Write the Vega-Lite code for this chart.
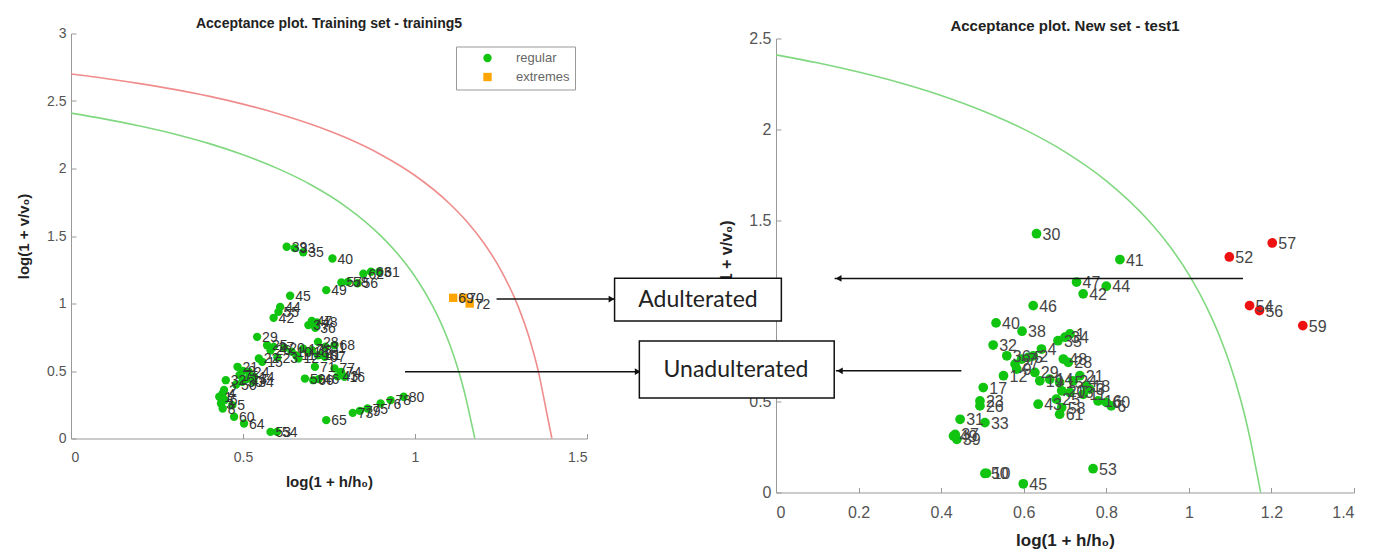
{
  "$schema": "https://vega.github.io/schema/vega-lite/v6.json",
  "background": "white",
  "padding": {"left": 16, "top": 16.5, "right": 5, "bottom": 5},
  "bounds": "flush",
  "spacing": 189,
  "config": {
    "view": {"stroke": null},
    "font": "Liberation Sans",
    "axis": {"grid": false, "domainColor": "#999", "tickColor": "#999", "labelColor": "#555", "titleColor": "#222", "tickSize": -5, "labelFont": "Liberation Sans", "titleFont": "Liberation Sans", "titleFontWeight": "bold"}
  },
  "resolve": {"scale": {"color": "independent", "shape": "independent"}},
  "datasets": {
    "green_curve": [
      {"x": 0, "y": 2.41}, {"x": 0.1, "y": 2.366}, {"x": 0.2, "y": 2.315}, {"x": 0.3, "y": 2.256}, {"x": 0.4, "y": 2.186},
      {"x": 0.5, "y": 2.102}, {"x": 0.6, "y": 2.001}, {"x": 0.7, "y": 1.876}, {"x": 0.8, "y": 1.716}, {"x": 0.9, "y": 1.503},
      {"x": 0.95, "y": 1.367}, {"x": 1.0, "y": 1.2}, {"x": 1.05, "y": 0.988}, {"x": 1.075, "y": 0.858}, {"x": 1.1, "y": 0.703},
      {"x": 1.125, "y": 0.515}, {"x": 1.135, "y": 0.428}, {"x": 1.15, "y": 0.277}, {"x": 1.16, "y": 0.162}, {"x": 1.174, "y": 0}
    ],
    "red_curve": [
      {"x": 0, "y": 2.70}, {"x": 0.1, "y": 2.667}, {"x": 0.2, "y": 2.629}, {"x": 0.3, "y": 2.586}, {"x": 0.4, "y": 2.536},
      {"x": 0.5, "y": 2.477}, {"x": 0.6, "y": 2.408}, {"x": 0.7, "y": 2.326}, {"x": 0.8, "y": 2.227}, {"x": 0.9, "y": 2.104},
      {"x": 1.0, "y": 1.948}, {"x": 1.1, "y": 1.741}, {"x": 1.15, "y": 1.609}, {"x": 1.2, "y": 1.448}, {"x": 1.25, "y": 1.246},
      {"x": 1.3, "y": 0.977}, {"x": 1.33, "y": 0.763}, {"x": 1.36, "y": 0.481}, {"x": 1.38, "y": 0.228}, {"x": 1.398, "y": 0}
    ],
    "train": [
      {"id": "39", "x": 0.627, "y": 1.42, "group": "regular"},
      {"id": "33", "x": 0.650, "y": 1.41, "group": "regular"},
      {"id": "35", "x": 0.675, "y": 1.38, "group": "regular"},
      {"id": "40", "x": 0.760, "y": 1.333, "group": "regular"},
      {"id": "49", "x": 0.742, "y": 1.099, "group": "regular"},
      {"id": "57", "x": 0.786, "y": 1.156, "group": "regular"},
      {"id": "58", "x": 0.805, "y": 1.16, "group": "regular"},
      {"id": "56", "x": 0.833, "y": 1.15, "group": "regular"},
      {"id": "62", "x": 0.85, "y": 1.22, "group": "regular"},
      {"id": "63", "x": 0.872, "y": 1.235, "group": "regular"},
      {"id": "61", "x": 0.896, "y": 1.235, "group": "regular"},
      {"id": "45", "x": 0.637, "y": 1.057, "group": "regular"},
      {"id": "44", "x": 0.608, "y": 0.975, "group": "regular"},
      {"id": "55", "x": 0.603, "y": 0.938, "group": "regular"},
      {"id": "42", "x": 0.589, "y": 0.894, "group": "regular"},
      {"id": "47", "x": 0.70, "y": 0.87, "group": "regular"},
      {"id": "48", "x": 0.715, "y": 0.86, "group": "regular"},
      {"id": "37", "x": 0.69, "y": 0.84, "group": "regular"},
      {"id": "36", "x": 0.71, "y": 0.82, "group": "regular"},
      {"id": "29", "x": 0.541, "y": 0.753, "group": "regular"},
      {"id": "25", "x": 0.570, "y": 0.691, "group": "regular"},
      {"id": "26", "x": 0.580, "y": 0.654, "group": "regular"},
      {"id": "27", "x": 0.589, "y": 0.679, "group": "regular"},
      {"id": "20", "x": 0.62, "y": 0.67, "group": "regular"},
      {"id": "10", "x": 0.641, "y": 0.644, "group": "regular"},
      {"id": "11", "x": 0.655, "y": 0.615, "group": "regular"},
      {"id": "12", "x": 0.661, "y": 0.593, "group": "regular"},
      {"id": "17", "x": 0.675, "y": 0.665, "group": "regular"},
      {"id": "18", "x": 0.690, "y": 0.642, "group": "regular"},
      {"id": "38", "x": 0.70, "y": 0.655, "group": "regular"},
      {"id": "19", "x": 0.718, "y": 0.617, "group": "regular"},
      {"id": "41", "x": 0.725, "y": 0.62, "group": "regular"},
      {"id": "28", "x": 0.718, "y": 0.716, "group": "regular"},
      {"id": "31", "x": 0.74, "y": 0.68, "group": "regular"},
      {"id": "68", "x": 0.766, "y": 0.691, "group": "regular"},
      {"id": "67", "x": 0.738, "y": 0.605, "group": "regular"},
      {"id": "71", "x": 0.709, "y": 0.531, "group": "regular"},
      {"id": "77", "x": 0.766, "y": 0.519, "group": "regular"},
      {"id": "74", "x": 0.785, "y": 0.494, "group": "regular"},
      {"id": "43", "x": 0.775, "y": 0.46, "group": "regular"},
      {"id": "16", "x": 0.795, "y": 0.457, "group": "regular"},
      {"id": "59", "x": 0.680, "y": 0.444, "group": "regular"},
      {"id": "46", "x": 0.72, "y": 0.44, "group": "regular"},
      {"id": "66", "x": 0.704, "y": 0.432, "group": "regular"},
      {"id": "22", "x": 0.546, "y": 0.593, "group": "regular"},
      {"id": "23", "x": 0.60, "y": 0.60, "group": "regular"},
      {"id": "15", "x": 0.556, "y": 0.568, "group": "regular"},
      {"id": "21", "x": 0.484, "y": 0.531, "group": "regular"},
      {"id": "9", "x": 0.50, "y": 0.50, "group": "regular"},
      {"id": "24", "x": 0.517, "y": 0.494, "group": "regular"},
      {"id": "7", "x": 0.49, "y": 0.47, "group": "regular"},
      {"id": "14", "x": 0.532, "y": 0.457, "group": "regular"},
      {"id": "13", "x": 0.51, "y": 0.44, "group": "regular"},
      {"id": "32", "x": 0.450, "y": 0.432, "group": "regular"},
      {"id": "30", "x": 0.498, "y": 0.420, "group": "regular"},
      {"id": "34", "x": 0.530, "y": 0.42, "group": "regular"},
      {"id": "50", "x": 0.48, "y": 0.40, "group": "regular"},
      {"id": "2", "x": 0.445, "y": 0.36, "group": "regular"},
      {"id": "4", "x": 0.441, "y": 0.333, "group": "regular"},
      {"id": "1", "x": 0.431, "y": 0.309, "group": "regular"},
      {"id": "6", "x": 0.447, "y": 0.285, "group": "regular"},
      {"id": "3", "x": 0.436, "y": 0.259, "group": "regular"},
      {"id": "5", "x": 0.469, "y": 0.247, "group": "regular"},
      {"id": "8", "x": 0.441, "y": 0.222, "group": "regular"},
      {"id": "60", "x": 0.474, "y": 0.161, "group": "regular"},
      {"id": "64", "x": 0.503, "y": 0.111, "group": "regular"},
      {"id": "53", "x": 0.580, "y": 0.049, "group": "regular"},
      {"id": "54", "x": 0.599, "y": 0.049, "group": "regular"},
      {"id": "65", "x": 0.742, "y": 0.136, "group": "regular"},
      {"id": "73", "x": 0.819, "y": 0.190, "group": "regular"},
      {"id": "79", "x": 0.84, "y": 0.205, "group": "regular"},
      {"id": "75", "x": 0.862, "y": 0.222, "group": "regular"},
      {"id": "76", "x": 0.900, "y": 0.259, "group": "regular"},
      {"id": "78", "x": 0.929, "y": 0.284, "group": "regular"},
      {"id": "80", "x": 0.967, "y": 0.309, "group": "regular"},
      {"id": "69", "x": 1.111, "y": 1.042, "group": "extremes"},
      {"id": "70", "x": 1.140, "y": 1.042, "group": "extremes"},
      {"id": "72", "x": 1.159, "y": 1.0, "group": "extremes"}
    ],
    "test": [
      {"id": "30", "x": 0.631, "y": 1.425, "group": "accepted"},
      {"id": "41", "x": 0.833, "y": 1.283, "group": "accepted"},
      {"id": "47", "x": 0.728, "y": 1.159, "group": "accepted"},
      {"id": "44", "x": 0.800, "y": 1.136, "group": "accepted"},
      {"id": "42", "x": 0.744, "y": 1.094, "group": "accepted"},
      {"id": "46", "x": 0.623, "y": 1.029, "group": "accepted"},
      {"id": "40", "x": 0.533, "y": 0.934, "group": "accepted"},
      {"id": "38", "x": 0.596, "y": 0.888, "group": "accepted"},
      {"id": "32", "x": 0.526, "y": 0.812, "group": "accepted"},
      {"id": "36", "x": 0.559, "y": 0.753, "group": "accepted"},
      {"id": "27", "x": 0.579, "y": 0.707, "group": "accepted"},
      {"id": "7", "x": 0.595, "y": 0.735, "group": "accepted"},
      {"id": "5", "x": 0.611, "y": 0.744, "group": "accepted"},
      {"id": "9", "x": 0.583, "y": 0.680, "group": "accepted"},
      {"id": "2", "x": 0.623, "y": 0.753, "group": "accepted"},
      {"id": "12", "x": 0.551, "y": 0.643, "group": "accepted"},
      {"id": "4", "x": 0.643, "y": 0.790, "group": "accepted"},
      {"id": "35", "x": 0.683, "y": 0.836, "group": "accepted"},
      {"id": "34", "x": 0.700, "y": 0.855, "group": "accepted"},
      {"id": "1", "x": 0.712, "y": 0.873, "group": "accepted"},
      {"id": "48", "x": 0.696, "y": 0.735, "group": "accepted"},
      {"id": "28", "x": 0.708, "y": 0.717, "group": "accepted"},
      {"id": "29", "x": 0.627, "y": 0.661, "group": "accepted"},
      {"id": "19", "x": 0.639, "y": 0.615, "group": "accepted"},
      {"id": "14", "x": 0.663, "y": 0.624, "group": "accepted"},
      {"id": "15", "x": 0.687, "y": 0.606, "group": "accepted"},
      {"id": "24", "x": 0.720, "y": 0.615, "group": "accepted"},
      {"id": "21", "x": 0.736, "y": 0.643, "group": "accepted"},
      {"id": "18", "x": 0.752, "y": 0.587, "group": "accepted"},
      {"id": "20", "x": 0.692, "y": 0.560, "group": "accepted"},
      {"id": "13", "x": 0.712, "y": 0.551, "group": "accepted"},
      {"id": "11", "x": 0.744, "y": 0.541, "group": "accepted"},
      {"id": "3", "x": 0.760, "y": 0.569, "group": "accepted"},
      {"id": "43", "x": 0.635, "y": 0.486, "group": "accepted"},
      {"id": "25", "x": 0.679, "y": 0.514, "group": "accepted"},
      {"id": "58", "x": 0.692, "y": 0.468, "group": "accepted"},
      {"id": "61", "x": 0.687, "y": 0.431, "group": "accepted"},
      {"id": "16", "x": 0.780, "y": 0.504, "group": "accepted"},
      {"id": "60", "x": 0.800, "y": 0.496, "group": "accepted"},
      {"id": "6", "x": 0.812, "y": 0.477, "group": "accepted"},
      {"id": "17", "x": 0.502, "y": 0.578, "group": "accepted"},
      {"id": "23", "x": 0.494, "y": 0.504, "group": "accepted"},
      {"id": "26", "x": 0.494, "y": 0.477, "group": "accepted"},
      {"id": "31", "x": 0.446, "y": 0.403, "group": "accepted"},
      {"id": "33", "x": 0.506, "y": 0.385, "group": "accepted"},
      {"id": "37", "x": 0.434, "y": 0.320, "group": "accepted"},
      {"id": "49", "x": 0.430, "y": 0.311, "group": "accepted"},
      {"id": "39", "x": 0.438, "y": 0.293, "group": "accepted"},
      {"id": "50", "x": 0.506, "y": 0.105, "group": "accepted"},
      {"id": "10", "x": 0.510, "y": 0.106, "group": "accepted"},
      {"id": "45", "x": 0.599, "y": 0.048, "group": "accepted"},
      {"id": "53", "x": 0.768, "y": 0.131, "group": "accepted"},
      {"id": "52", "x": 1.098, "y": 1.297, "group": "outlier"},
      {"id": "57", "x": 1.202, "y": 1.374, "group": "outlier"},
      {"id": "54", "x": 1.147, "y": 1.029, "group": "outlier"},
      {"id": "56", "x": 1.171, "y": 1.002, "group": "outlier"},
      {"id": "59", "x": 1.276, "y": 0.919, "group": "outlier"}
    ],
    "left_arrows": [
      {"x": 1.237, "x2": 1.583, "y": 1.033},
      {"x": 0.971, "x2": 1.659, "y": 0.495}
    ],
    "right_arrows": [
      {"x": 1.131, "x2": 0.142, "y": 1.179},
      {"x": 0.449, "x2": 0.145, "y": 0.670}
    ],
    "boxes": [
      {"label": "Adulterated", "x": -0.391, "x2": 0.013, "y": 0.944, "y2": 1.180, "cx": -0.189, "cy": 1.062},
      {"label": "Unadulterated", "x": -0.331, "x2": 0.141, "y": 0.520, "y2": 0.834, "cx": -0.0969, "cy": 0.677}
    ]
  },
  "hconcat": [
    {
      "width": 516,
      "height": 405,
      "title": {"text": "Acceptance plot. Training set - training5", "fontSize": 14, "fontWeight": "bold", "color": "#222", "offset": -4, "font": "Liberation Sans"},
      "layer": [
        {
          "data": {"name": "green_curve"},
          "mark": {"type": "line", "color": "#80d880", "strokeWidth": 1.6, "interpolate": "monotone"},
          "encoding": {
            "x": {"field": "x", "type": "quantitative", "scale": {"domain": [0, 1.5], "nice": false}, "axis": {"title": "log(1 + h/h₀)", "values": [0, 0.5, 1, 1.5], "format": "~g", "labelFontSize": 14, "titleFontSize": 15, "labelPadding": 17, "titlePadding": 10}},
            "y": {"field": "y", "type": "quantitative", "scale": {"domain": [0, 3], "nice": false}, "axis": {"title": "log(1 + v/v₀)", "values": [0, 0.5, 1, 1.5, 2, 2.5, 3], "format": "~g", "labelFontSize": 14, "titleFontSize": 15, "labelPadding": 10, "titlePadding": 15}}
          }
        },
        {
          "data": {"name": "red_curve"},
          "mark": {"type": "line", "color": "#f08c8c", "strokeWidth": 1.6, "interpolate": "monotone"},
          "encoding": {
            "x": {"field": "x", "type": "quantitative"},
            "y": {"field": "y", "type": "quantitative"}
          }
        },
        {
          "data": {"name": "train"},
          "mark": {"type": "point", "filled": true, "opacity": 1, "size": 70},
          "encoding": {
            "x": {"field": "x", "type": "quantitative"},
            "y": {"field": "y", "type": "quantitative"},
            "color": {"field": "group", "type": "nominal", "scale": {"domain": ["regular", "extremes"], "range": ["#10c410", "#ffa500"]},
              "legend": {"orient": "none", "legendX": 385, "legendY": 13, "title": null, "strokeColor": "#999", "fillColor": "white", "padding": 5, "labelFontSize": 13, "labelColor": "#666", "symbolOffset": 20, "labelOffset": 22, "rowPadding": 5, "symbolSize": 70, "labelFont": "Liberation Sans"}},
            "shape": {"field": "group", "type": "nominal", "scale": {"domain": ["regular", "extremes"], "range": ["circle", "square"]},
              "legend": {"orient": "none", "legendX": 385, "legendY": 13, "title": null, "strokeColor": "#999", "fillColor": "white", "padding": 5, "labelFontSize": 13, "labelColor": "#666", "symbolOffset": 20, "labelOffset": 22, "rowPadding": 5, "symbolSize": 70, "labelFont": "Liberation Sans"}}
          }
        },
        {
          "data": {"name": "train"},
          "mark": {"type": "text", "align": "left", "baseline": "middle", "dx": 5, "dy": 1, "fontSize": 14, "color": "#333", "font": "Liberation Sans"},
          "encoding": {
            "x": {"field": "x", "type": "quantitative"},
            "y": {"field": "y", "type": "quantitative"},
            "text": {"field": "id", "type": "nominal"}
          }
        },
        {
          "data": {"name": "left_arrows"},
          "mark": {"type": "rule", "color": "#111", "strokeWidth": 1.5},
          "encoding": {
            "x": {"field": "x", "type": "quantitative"},
            "x2": {"field": "x2"},
            "y": {"field": "y", "type": "quantitative"}
          }
        },
        {
          "data": {"name": "left_arrows"},
          "mark": {"type": "point", "shape": "triangle-right", "filled": true, "color": "#111", "opacity": 1, "size": 45, "xOffset": -4},
          "encoding": {
            "x": {"field": "x2", "type": "quantitative"},
            "y": {"field": "y", "type": "quantitative"}
          }
        }
      ]
    },
    {
      "width": 578,
      "height": 459,
      "title": {"text": "Acceptance plot. New set - test1", "fontSize": 15, "fontWeight": "bold", "color": "#222", "offset": -3.5, "font": "Liberation Sans"},
      "layer": [
        {
          "data": {"name": "green_curve"},
          "mark": {"type": "line", "color": "#80d880", "strokeWidth": 1.6, "interpolate": "monotone"},
          "encoding": {
            "x": {"field": "x", "type": "quantitative", "scale": {"domain": [0, 1.4], "nice": false}, "axis": {"title": "log(1 + h/h₀)", "values": [0, 0.2, 0.4, 0.6, 0.8, 1, 1.2, 1.4], "format": "~g", "labelFontSize": 16, "titleFontSize": 17, "labelPadding": 16.5, "titlePadding": 12}},
            "y": {"field": "y", "type": "quantitative", "scale": {"domain": [0, 2.5], "nice": false, "range": [459, 5]}, "axis": {"title": "log(1 + v/v₀)", "values": [0, 0.5, 1, 1.5, 2, 2.5], "format": "~g", "labelFontSize": 16, "titleFontSize": 16, "labelPadding": 10, "titlePadding": 14}}
          }
        },
        {
          "data": {"name": "test"},
          "mark": {"type": "point", "filled": true, "opacity": 1, "size": 95, "shape": "circle"},
          "encoding": {
            "x": {"field": "x", "type": "quantitative"},
            "y": {"field": "y", "type": "quantitative"},
            "color": {"field": "group", "type": "nominal", "scale": {"domain": ["accepted", "outlier"], "range": ["#10c410", "#ee1111"]}, "legend": null}
          }
        },
        {
          "data": {"name": "test"},
          "mark": {"type": "text", "align": "left", "baseline": "middle", "dx": 6, "dy": 1, "fontSize": 16, "color": "#444", "font": "Liberation Sans"},
          "encoding": {
            "x": {"field": "x", "type": "quantitative"},
            "y": {"field": "y", "type": "quantitative"},
            "text": {"field": "id", "type": "nominal"}
          }
        },
        {
          "data": {"name": "right_arrows"},
          "mark": {"type": "rule", "color": "#111", "strokeWidth": 1.5},
          "encoding": {
            "x": {"field": "x", "type": "quantitative"},
            "x2": {"field": "x2"},
            "y": {"field": "y", "type": "quantitative"}
          }
        },
        {
          "data": {"name": "right_arrows"},
          "mark": {"type": "point", "shape": "triangle-left", "filled": true, "color": "#111", "opacity": 1, "size": 45, "xOffset": 4},
          "encoding": {
            "x": {"field": "x2", "type": "quantitative"},
            "y": {"field": "y", "type": "quantitative"}
          }
        },
        {
          "data": {"name": "boxes"},
          "mark": {"type": "rect", "fill": "white", "stroke": "#111", "strokeWidth": 1.5},
          "encoding": {
            "x": {"field": "x", "type": "quantitative"},
            "x2": {"field": "x2"},
            "y": {"field": "y", "type": "quantitative"},
            "y2": {"field": "y2"}
          }
        },
        {
          "data": {"name": "boxes"},
          "mark": {"type": "text", "align": "center", "baseline": "middle", "fontSize": 23, "color": "#222", "font": "Lato"},
          "encoding": {
            "x": {"field": "cx", "type": "quantitative"},
            "y": {"field": "cy", "type": "quantitative"},
            "text": {"field": "label", "type": "nominal"}
          }
        }
      ]
    }
  ]
}
